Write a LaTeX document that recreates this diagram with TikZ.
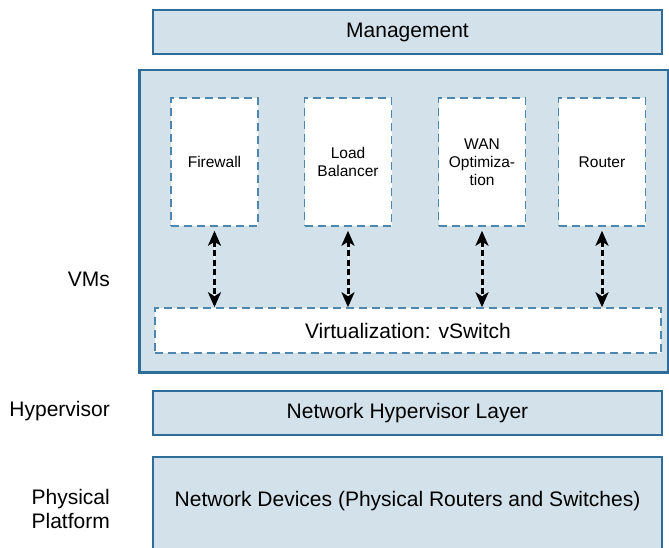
\documentclass[tikz,border=0pt]{standalone}
\usepackage{fontspec}
\setmainfont{Liberation Sans}
\usetikzlibrary{arrows.meta}
\definecolor{fillblue}{HTML}{D3E1EA}
\definecolor{edgeblue}{HTML}{2E6D98}
\definecolor{dashblue}{HTML}{4D87AF}
\begin{document}
\begin{tikzpicture}[x=1pt,y=-1pt,
  layer/.style={draw=edgeblue, line width=2.5pt, fill=fillblue, inner sep=0pt, font=\fontsize{21}{25}\selectfont},
  vmbox/.style={draw=dashblue, line width=1.5pt, dash pattern=on 8pt off 5pt, fill=white, inner sep=0pt,
    minimum width=87pt, minimum height=128pt, align=center, font=\fontsize{15.5}{18}\selectfont},
  sidetext/.style={font=\fontsize{21}{24.5}\selectfont, align=right, anchor=east, inner sep=0pt},
  bigtext/.style={font=\fontsize{21}{25}\selectfont, inner sep=0pt},
  link/.style={line width=3pt, dash pattern=on 6pt off 3.5pt,
    {Stealth[length=15pt,width=13pt,inset=4pt]}-{Stealth[length=15pt,width=13pt,inset=4pt]},
    preaction={draw=white, line width=1pt, solid, -}}
]
\useasboundingbox (0,0) rectangle (669,547);
\clip (0,0) rectangle (669,547);

% layers
\node[layer, minimum width=509pt, minimum height=44pt] (mgmt) at (407.5,32) {Management};
\node[layer, minimum width=528.5pt, minimum height=302.5pt] (vms) at (403.75,221.25) {};
\node[layer, minimum width=509pt, minimum height=44pt] (hyp) at (407.5,413) {Network Hypervisor Layer};
\node[layer, minimum width=509pt, minimum height=103pt] (dev) at (407.5,508.5) {};
\node[bigtext] (devtext) at (407.5,501) {Network Devices (Physical Routers and Switches)};

% VM boxes
\node[vmbox] (fw) at (214.5,162) {Firewall};
\node[vmbox] (lb) at (348,162) {Load\\Balancer};
\node[vmbox] (wan) at (482,162) {WAN\\Optimiza-\\tion};
\node[vmbox] (rt) at (602,162) {Router};

% vSwitch
\node[vmbox, minimum width=506pt, minimum height=45pt, font=\fontsize{21}{25}\selectfont] (vsw) at (408,330.5) {Virtualization: vSwitch};

% arrows
\foreach \b in {fw,lb,wan,rt}{
  \draw[link] ([yshift=-4pt]\b.south) -- (\b.south |- vsw.north);
}

% side labels
\node[sidetext] (lvms) at (110,279) {VMs};
\node[sidetext] (lhyp) at (110,411) {Hypervisor};
\node[sidetext] (lphys) at (110,509) {Physical\\Platform};
\end{tikzpicture}
\end{document}
